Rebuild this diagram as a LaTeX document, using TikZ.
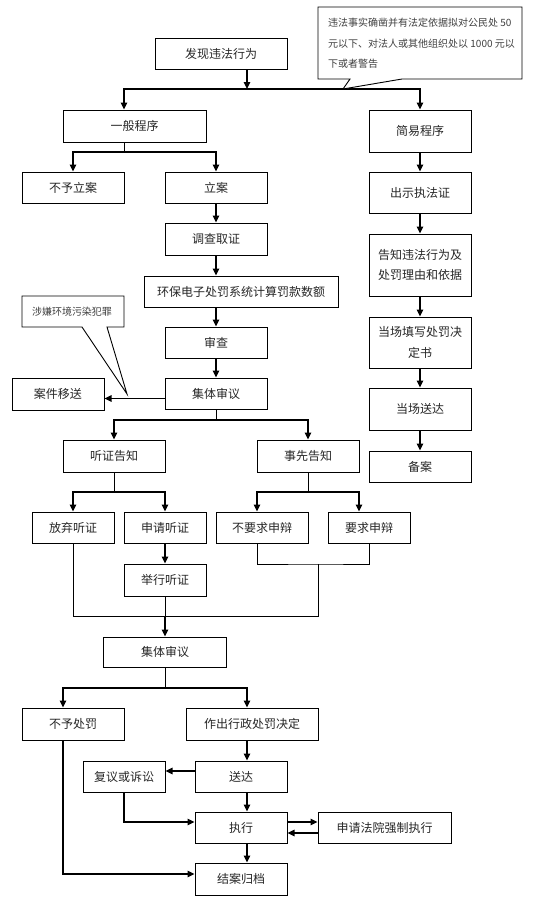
\documentclass[tikz,border=0pt]{standalone}
\usepackage{fontspec}
\newfontfamily\cjk{Noto Sans CJK SC}
\usetikzlibrary{arrows.meta}

\begin{document}
\begin{tikzpicture}[x=1pt, y=-1pt,
    box/.style={draw, line width=1pt, inner sep=0pt, align=center, text=black!85,
        font=\cjk\fontsize{12}{20.5}\selectfont},
    flow/.style={-{Triangle[length=7pt,width=6.5pt]}, line width=1.4pt},
    link/.style={line width=0.9pt},
    note/.style={draw, line width=0.9pt, fill=white},
    notetext/.style={inner sep=0pt, text=black!75, font=\cjk\fontsize{10}{20.5}\selectfont}]
    \useasboundingbox (0,0) rectangle (550,906);

    % Start
    \node[box, minimum width=132, minimum height=31] (fxwf) at (221,53.5) {发现违法行为};
    % Two procedures
    \node[box, minimum width=143, minimum height=32] (ybcx) at (134.5,126) {一般程序};
    \node[box, minimum width=102, minimum height=42] (jycx) at (420,131) {简易程序};

    % Summary procedure column
    \node[box, minimum width=102, minimum height=41] (cszf) at (420,192.5) {出示执法证};
    \node[box, minimum width=102, minimum height=62] (gzwf) at (420,265) {告知违法行为及\\处罚理由和依据};
    \node[box, minimum width=102, minimum height=51] (dctx) at (420,342.5) {当场填写处罚决\\定书};
    \node[box, minimum width=102, minimum height=42] (dcsd) at (420,409) {当场送达};
    \node[box, minimum width=102, minimum height=31] (ba) at (420,466.5) {备案};

    % General procedure column
    \node[box, minimum width=102, minimum height=31] (byla) at (73,187.5) {不予立案};
    \node[box, minimum width=102, minimum height=31] (la) at (216,187.5) {立案};
    \node[box, minimum width=102, minimum height=32] (dcqz) at (216,239) {调查取证};
    \node[box, minimum width=194, minimum height=31] (hbjs) at (241,291.5) {环保电子处罚系统计算罚款数额};
    \node[box, minimum width=102, minimum height=31] (sc) at (216,342.5) {审查};
    \node[box, minimum width=102, minimum height=31] (jtsy1) at (216,393.5) {集体审议};
    \node[box, minimum width=92, minimum height=32] (ajys) at (58,394) {案件移送};

    % Notices
    \node[box, minimum width=102, minimum height=32] (tzgz) at (114,456) {听证告知};
    \node[box, minimum width=102, minimum height=32] (sxgz) at (308,456) {事先告知};
    \node[box, minimum width=82, minimum height=31] (fqtz) at (73,527.5) {放弃听证};
    \node[box, minimum width=82, minimum height=31] (sqtz) at (165,527.5) {申请听证};
    \node[box, minimum width=92, minimum height=31] (bysb) at (262,527.5) {不要求申辩};
    \node[box, minimum width=82, minimum height=31] (yqsb) at (369,527.5) {要求申辩};
    \node[box, minimum width=82, minimum height=32] (jxtz) at (165,580) {举行听证};

    % Decision and closing
    \node[box, minimum width=123, minimum height=30] (jtsy2) at (165,652) {集体审议};
    \node[box, minimum width=102, minimum height=32] (bycf) at (73,724) {不予处罚};
    \node[box, minimum width=132, minimum height=32] (zccf) at (252,724) {作出行政处罚决定};
    \node[box, minimum width=82, minimum height=31] (fyss) at (124,776.5) {复议或诉讼};
    \node[box, minimum width=92, minimum height=31] (sd) at (241,776.5) {送达};
    \node[box, minimum width=92, minimum height=31] (zx) at (241,827.5) {执行};
    \node[box, minimum width=133, minimum height=31] (sqfy) at (384.5,827.5) {申请法院强制执行};
    \node[box, minimum width=92, minimum height=32] (jaga) at (241,879) {结案归档};

    % Split into the two procedures
    \coordinate (b1) at (247,89);
    \draw[flow] ([xshift=26pt]fxwf.south) -- (b1);
    \draw[flow] (b1) -| ([xshift=-10.5pt]ybcx.north);
    \draw[flow] (b1) -| (jycx.north);

    % Summary procedure arrows
    \draw[flow] (jycx) -- (cszf);
    \draw[flow] (cszf) -- (gzwf);
    \draw[flow] (gzwf) -- (dctx);
    \draw[flow] (dctx) -- (dcsd);
    \draw[flow] (dcsd) -- (ba);

    % General procedure arrows
    \coordinate (b2) at (124,152);
    \draw[link] ([xshift=-10.5pt]ybcx.south) -- (b2);
    \draw[flow] (b2) -| (byla.north);
    \draw[flow] (b2) -| (la.north);
    \draw[flow] (la) -- (dcqz);
    \draw[flow] (dcqz.south) -- (dcqz.south |- hbjs.north);
    \draw[flow] (sc.north |- hbjs.south) -- (sc.north);
    \draw[flow] (sc) -- (jtsy1);
    \draw[flow] ([yshift=-5pt]jtsy1.west) -- ([yshift=-5pt]jtsy1.west -| ajys.east);

    % Split after review
    \coordinate (b3) at (216,420);
    \draw[link] (jtsy1.south) -- (b3);
    \draw[flow] (b3) -| (tzgz.north);
    \draw[flow] (b3) -| (sxgz.north);
    \coordinate (b4) at (114,492);
    \draw[link] (tzgz.south) -- (b4);
    \draw[flow] (b4) -| (fqtz.north);
    \draw[flow] (b4) -| (sqtz.north);
    \coordinate (b5) at (308,492);
    \draw[link] (sxgz.south) -- (b5);
    \draw[flow] (b5) -| ([xshift=-5pt]bysb.north);
    \draw[flow] (b5) -| ([xshift=-10pt]yqsb.north);
    \draw[flow] (sqtz) -- (jxtz);

    % Merge back
    \coordinate (b6) at (318,564);
    \coordinate (b7) at (318,616);
    \draw[link] ([xshift=-5pt]bysb.south) |- (b6) -| (yqsb.south);
    \draw[link] (fqtz.south) |- (b7) -- (b6);
    \draw[link] (jxtz.south) -- (jxtz.south |- b7);
    \draw[flow] (jxtz.south |- b7) -- (jtsy2.north);

    % Decision
    \coordinate (b8) at (165,688);
    \draw[link] (jtsy2.south) -- (b8);
    \draw[flow] (b8) -| ([xshift=-10pt]bycf.north);
    \draw[flow] (b8) -| ([xshift=-5pt]zccf.north);
    \draw[flow] ([xshift=-5pt]zccf.south) -- ([xshift=-5pt]zccf.south |- sd.north);
    \draw[flow] ([yshift=5.5pt]sd.west) -- ([yshift=5.5pt]sd.west -| fyss.east);
    \draw[flow] ([xshift=6pt]sd.south) -- ([xshift=6pt]zx.north);
    \draw[flow] (fyss.south) |- ([yshift=5.5pt]zx.west);
    \draw[flow] ([yshift=5.5pt]zx.east) -- ([yshift=5.5pt]zx.east -| sqfy.west);
    \draw[flow] ([yshift=-5.5pt]sqfy.west) -- ([yshift=-5.5pt]sqfy.west -| zx.east);
    \draw[flow] ([xshift=6pt]zx.south) -- ([xshift=6pt]jaga.north);
    \draw[flow] ([xshift=-10pt]bycf.south) |- ([yshift=5pt]jaga.west);

    % Callout for the summary procedure
    \draw[note] (318,7) -- (522,7) -- (522,79) -- (402,79) -- (343,89) -- (350,79) -- (318,79) -- cycle;
    \node[notetext, align=left, anchor=west] (cond) at (328,43.5) {违法事实确凿并有法定依据拟对公民处 50\\元以下、对法人或其他组织处以 1000 元以\\下或者警告};

    % Callout for the transfer
    \draw[note] (22,296) -- (124,296) -- (124,327) -- (107,327) -- (127,394) -- (82,327) -- (22,327) -- cycle;
    \node[notetext] (crime) at (72,311.5) {涉嫌环境污染犯罪};
\end{tikzpicture}
\end{document}
